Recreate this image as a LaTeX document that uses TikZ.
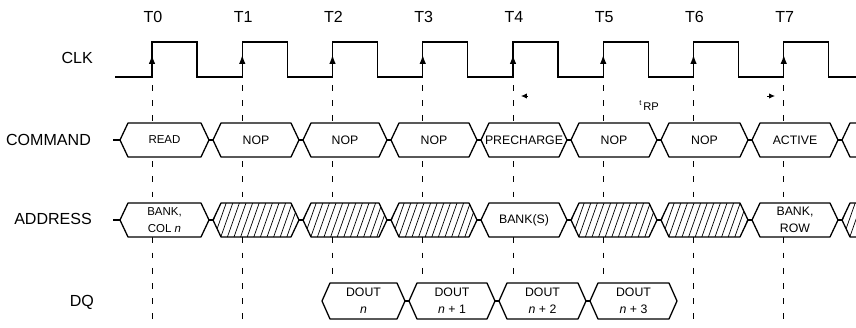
\documentclass[tikz,border=0pt]{standalone}
\usepackage{fontspec}
\setmainfont{Liberation Sans}
\usetikzlibrary{arrows.meta}

\begin{document}
\begin{tikzpicture}[
    x=0.03cm, y=-0.03cm,
    rowlabel/.style={anchor=east, font=\fontsize{13.7}{15}\selectfont},
    ticklabel/.style={font=\fontsize{13.7}{15}\selectfont},
    bus/.style={draw, fill=white, line width=1.1pt, line join=round},
    bustext/.style={align=center, font=\fontsize{10.5}{14.5}\selectfont},
    smalltext/.style={align=center, font=\fontsize{9.8}{14.5}\selectfont},
    guide/.style={dash pattern=on 5pt off 8pt, line width=0.6pt},
    hatch/.style={line width=0.6pt},
    edge/.style={-{Latex[length=7.5pt,width=5.5pt]}, line width=1.1pt}
]
    \clip (0,0) rectangle (856,327);

    % row labels
    \node[rowlabel] (clk) at (97,58) {CLK};
    \node[rowlabel] (command) at (95,140) {COMMAND};
    \node[rowlabel] (address) at (96,219) {ADDRESS};
    \node[rowlabel] (dq) at (98,302) {DQ};

    % clock edges and guides
    \foreach \k in {0,...,7} {
        \node[ticklabel] (t\k) at ({153+90.25*\k},17) {T\k};
        \draw[guide] ({152+90.25*\k},85) -- ({152+90.25*\k},327);
        \draw[edge] ({152+90.25*\k},72) -- ({152+90.25*\k},55);
    }
    \draw[line width=1.1pt, line join=miter] (115,77)
        \foreach \k in {0,...,7} { -- ({152+90.25*\k},77) -- ++(0,-35) -- ++(45,0) -- ++(0,35) }
        -- (856,77);

    % tRP
    \node[font=\fontsize{9.5}{10}\selectfont] (trp) at (649,106) {\raisebox{0.45em}{\fontsize{6.5}{7}\selectfont t}\,RP};
    \draw[-{Latex[length=5pt,width=4.5pt]}, line width=0.8pt] (528,96) -- (521,96);
    \draw[-{Latex[length=5pt,width=4.5pt]}, line width=0.8pt] (767,96) -- (775,96);

    % COMMAND bus
    \draw[line width=1.1pt] (113,140) -- (120,140);
    \draw[bus] (120,140) -- (128,123) -- (201,123) -- (209,140) -- (201,157) -- (128,157) -- cycle;
    \node[smalltext] (cmd1) at (164.5,140) {READ};
    \foreach \a/\b/\txt [count=\i from 2] in {213/299/NOP, 303/387/NOP, 391/477/NOP,
                                        481/567/PRECHARGE, 571/657/NOP, 661/748/NOP, 752/838/ACTIVE, 842/900/{}} {
        \draw[line width=1.1pt] (\a-4,140) -- (\a,140);
        \draw[bus] (\a,140) -- (\a+8,123) -- (\b-8,123) -- (\b,140) -- (\b-8,157) -- (\a+8,157) -- cycle;
        \node[bustext] (cmd\i) at ({(\a+\b)/2},140) {\txt};
    }

    % ADDRESS bus
    \draw[line width=1.1pt] (113,220) -- (120,220);
    \draw[bus] (120,220) -- (128,203) -- (201,203) -- (209,220) -- (201,237) -- (128,237) -- cycle;
    \node[smalltext] (addr1) at (164.5,220) {BANK,\\COL \textit{n}};
    \foreach \a/\b in {213/299, 303/387, 391/477, 571/657, 661/748, 842/900} {
        \draw[line width=1.1pt] (\a-4,220) -- (\a,220);
        \begin{scope}
            \clip (\a,220) -- (\a+8,203) -- (\b-8,203) -- (\b,220) -- (\b-8,237) -- (\a+8,237) -- cycle;
            \fill[white] (\a,203) rectangle (\b,237);
            \foreach \j in {0,...,16}
                \draw[hatch] (\a-12+6.6*\j,237) -- ++(12,-34);
        \end{scope}
        \draw[line width=1.1pt, line join=round] (\a,220) -- (\a+8,203) -- (\b-8,203) -- (\b,220) -- (\b-8,237) -- (\a+8,237) -- cycle;
    }
    \foreach \a/\b/\txt [count=\i from 2] in {481/567/{BANK(S)}, 752/838/{BANK,\\ROW}} {
        \draw[line width=1.1pt] (\a-4,220) -- (\a,220);
        \draw[bus] (\a,220) -- (\a+8,203) -- (\b-8,203) -- (\b,220) -- (\b-8,237) -- (\a+8,237) -- cycle;
        \node[bustext] (addr\i) at ({(\a+\b)/2},220) {\txt};
    }

    % DQ bus
    \foreach \a/\b/\txt [count=\i] in {322/405/{DOUT\\\textit{n}}, 409/495/{DOUT\\\textit{n} + 1},
                                        499/586/{DOUT\\\textit{n} + 2}, 590/677/{DOUT\\\textit{n} + 3}} {
        \ifnum\i>1 \draw[line width=1.1pt] (\a-4,301) -- (\a,301); \fi
        \draw[bus] (\a,301) -- (\a+8,283) -- (\b-8,283) -- (\b,301) -- (\b-8,319) -- (\a+8,319) -- cycle;
        \node[bustext] (dout\i) at ({(\a+\b)/2},301) {\txt};
    }
\end{tikzpicture}
\end{document}
